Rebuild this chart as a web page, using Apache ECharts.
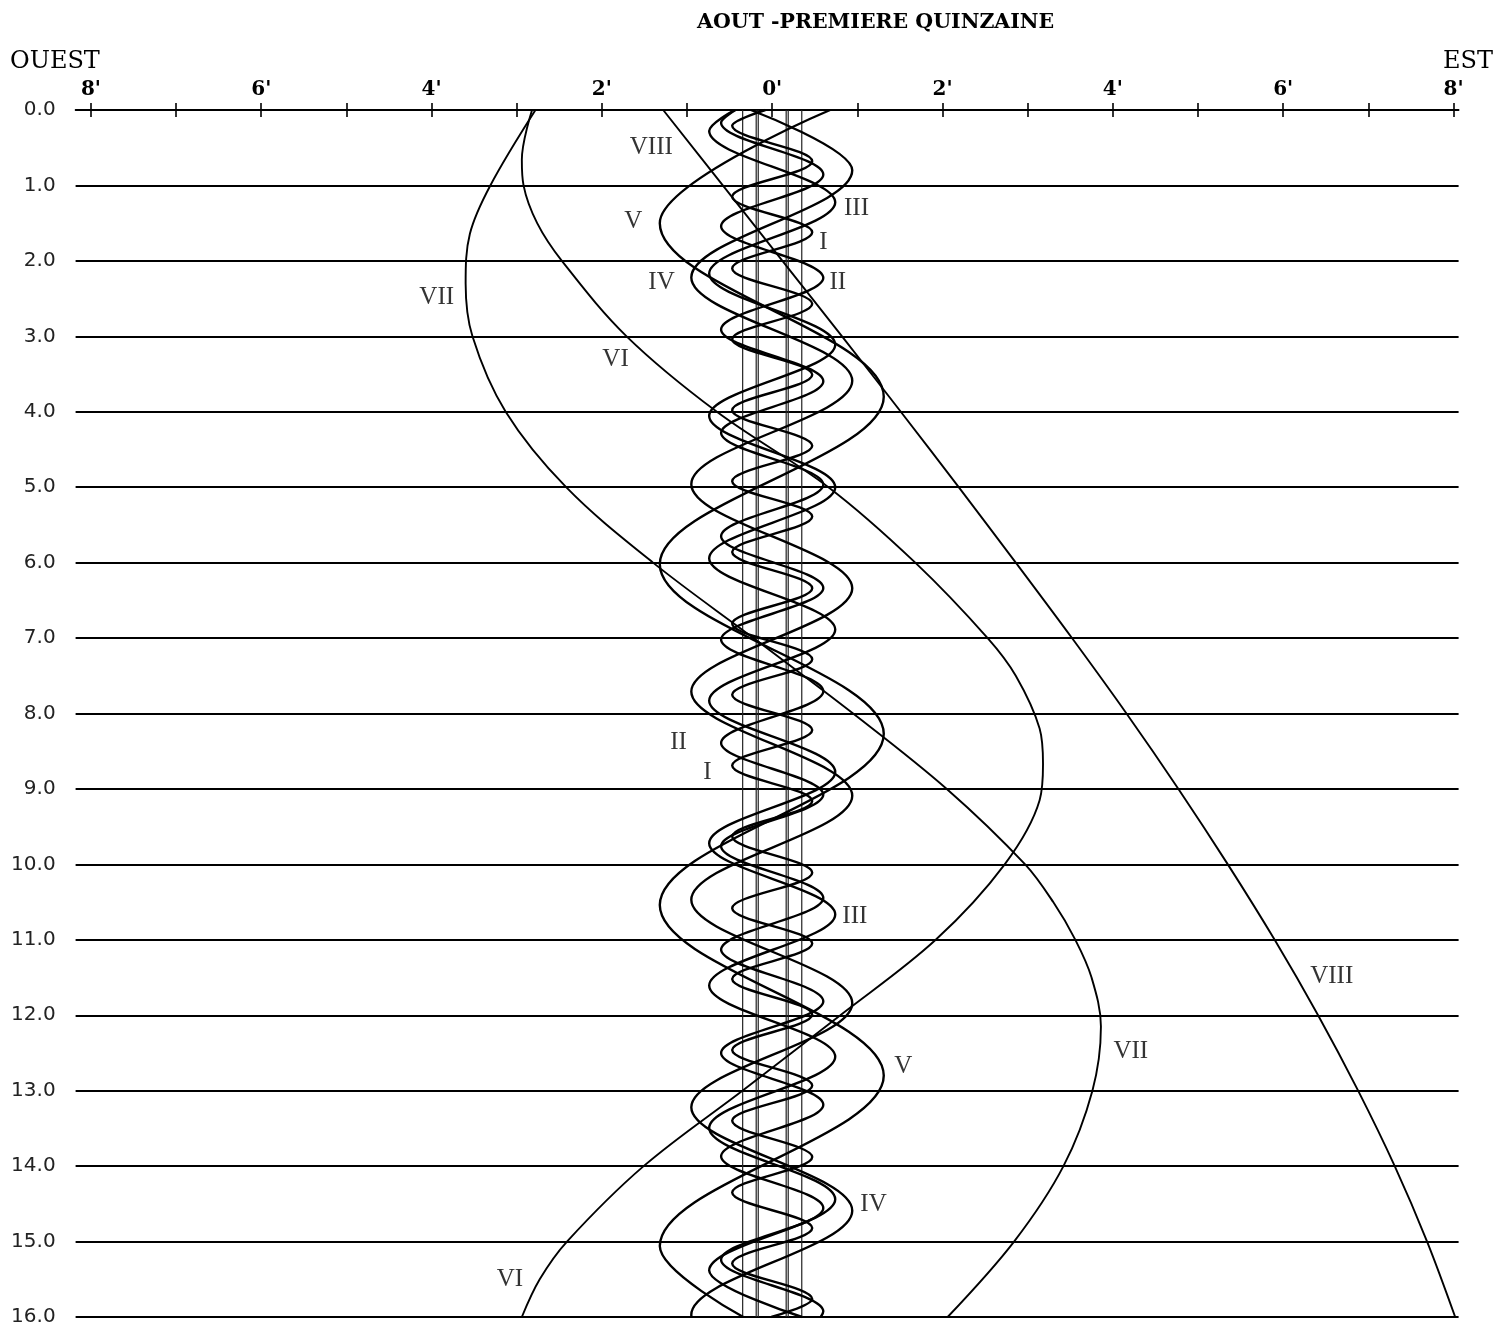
<!DOCTYPE html>
<html>
<head>
<meta charset="utf-8">
<script src="https://cdn.jsdelivr.net/npm/echarts@6/dist/echarts.min.js"></script>
<style>
html,body{margin:0;padding:0;background:#fff;}
#chart{width:1498px;height:1327px;}
</style>
</head>
<body>
<div id="chart"></div>
<script>
// ---------- texts ----------
const titleText = 'AOUT -PREMIERE QUINZAINE';
const westText = 'OUEST';
const eastText = 'EST';

// ---------- axes ----------
const arcTicks = [-8,-7,-6,-5,-4,-3,-2,-1,0,1,2,3,4,5,6,7,8];
const arcLabelValues = [-8,-6,-4,-2,0,2,4,6,8];
const dayMin = 0, dayMax = 16;

// planet / ring edges (arc minutes)
const ringLines = [-0.347, -0.188, -0.164, 0.164, 0.188, 0.347];

// ---------- satellites: [arc minutes (W<0<E), day] ----------
const satI = [[-0.08,0],[-0.47,0.21],[0.47,0.68],[-0.47,1.15],[0.47,1.62],[-0.47,2.10],[0.47,2.57],[-0.47,3.04],[0.47,3.51],[-0.47,3.98],[0.47,4.45],[-0.47,4.92],[0.47,5.39],[-0.47,5.86],[0.47,6.34],[-0.47,6.81],[0.47,7.28],[-0.47,7.75],[0.47,8.22],[-0.47,8.69],[0.47,9.16],[-0.47,9.63],[0.47,10.11],[-0.47,10.58],[0.47,11.05],[-0.47,11.52],[0.47,11.99],[-0.47,12.46],[0.47,12.93],[-0.47,13.40],[0.47,13.88],[-0.47,14.35],[0.47,14.82],[-0.47,15.29],[0.47,15.76],[-0.01,16]];
const satII = [[-0.43,0],[-0.60,0.17],[0.60,0.855],[-0.60,1.54],[0.60,2.225],[-0.60,2.91],[0.60,3.595],[-0.60,4.28],[0.60,4.965],[-0.60,5.65],[0.60,6.335],[-0.60,7.02],[0.60,7.705],[-0.60,8.39],[0.60,9.075],[-0.60,9.76],[0.60,10.445],[-0.60,11.13],[0.60,11.815],[-0.60,12.50],[0.60,13.185],[-0.60,13.87],[0.60,14.555],[-0.60,15.24],[0.60,15.925],[0.57,16]];
const satIII = [[-0.44,0],[-0.74,0.28],[0.74,1.224],[-0.74,2.168],[0.74,3.112],[-0.74,4.056],[0.74,5.0],[-0.74,5.943],[0.74,6.887],[-0.74,7.831],[0.74,8.775],[-0.74,9.719],[0.74,10.663],[-0.74,11.607],[0.74,12.551],[-0.74,13.495],[0.74,14.439],[-0.74,15.382],[0.35,16]];
const satIV = [[-0.25,0],[0.94,0.80],[-0.95,2.22],[0.94,3.59],[-0.95,4.96],[0.94,6.34],[-0.95,7.71],[0.94,9.09],[-0.95,10.47],[0.94,11.84],[-0.95,13.22],[0.94,14.59],[-0.95,15.97],[-0.948,16]];
const satV = [[0.68,0],[-1.32,1.50],[1.31,3.80],[-1.32,6.02],[1.31,8.27],[-1.32,10.54],[1.31,12.80],[-1.32,15.06],[-0.34,16]];
const satVI = [[-2.82,0],[-2.94,0.66],[-2.92,1],[-2.76,1.5],[-2.47,2],[-1.71,3],[-0.65,4],[0.66,5],[1.68,6],[2.53,7],[2.86,7.5],[3.14,8.2],[3.18,8.67],[3.14,9.15],[2.73,10],[1.92,11],[0.80,12],[-0.35,13],[-1.51,14],[-2.41,15],[-2.73,15.5],[-2.94,16]];
const satVII = [[-2.78,0],[-3.31,1],[-3.55,1.64],[-3.60,2.3],[-3.52,3],[-3.13,4],[-2.42,5],[-1.40,6],[-0.22,7],[0.95,8],[2.05,9],[2.97,10],[3.30,10.5],[3.56,11],[3.75,11.5],[3.86,12.15],[3.76,13],[3.42,14],[2.84,15],[2.06,16]];
const satVIII = [[-1.28,0],[-0.58,1],[0.12,2],[0.82,3],[1.51,4],[2.19,5],[2.86,6],[3.52,7],[4.16,8],[4.77,9],[5.35,10],[5.90,11],[6.41,12],[6.88,13],[7.31,14],[7.69,15],[8.02,16]];

// satellite name labels: [text, arc minutes, day]
const satelliteLabels = [
  ['VIII',-1.42,0.50],['V',-1.63,1.48],['III',0.99,1.31],['I',0.60,1.75],
  ['II',0.77,2.29],['IV',-1.30,2.29],['VII',-3.94,2.49],['VI',-1.84,3.30],
  ['II',-1.10,8.39],['I',-0.76,8.78],['III',0.97,10.69],['VIII',6.57,11.49],
  ['VII',4.21,12.48],['V',1.54,12.68],['IV',1.19,14.51],['VI',-3.08,15.50]
];

// ---------- chart ----------
const ink = '#000';
const chart = echarts.init(document.getElementById('chart'), null, {renderer:'canvas'});

function curve(name, data, width, opts) {
  return Object.assign({
    name: name, type: 'line', data: data, symbol: 'none', silent: true,
    lineStyle: {color: ink, width: width}, z: 3
  }, opts || {});
}

const series = [];
ringLines.forEach((x, i) => {
  series.push(curve('ring' + i, [[x, dayMin], [x, dayMax]], 1.2, {z: 2, lineStyle: {color: '#222', width: 1.2}}));
});
const smallOpts = {smooth: 0.36, smoothMonotone: 'y'};
series.push(curve('I', satI, 2.4, smallOpts));
series.push(curve('II', satII, 2.4, smallOpts));
series.push(curve('III', satIII, 2.4, smallOpts));
series.push(curve('IV', satIV, 2.4, smallOpts));
series.push(curve('V', satV, 2.4, smallOpts));
series.push(curve('VI', satVI, 1.9, {smooth: 0.35}));
series.push(curve('VII', satVII, 1.9, {smooth: 0.35}));
series.push(curve('VIII', satVIII, 1.9, {smooth: 0.35}));
series.push({
  name: 'labels', type: 'scatter', silent: true, symbolSize: 0, z: 5,
  data: satelliteLabels.map(l => ({name: l[0], value: [l[1], l[2]]})),
  label: {show: true, position: 'inside', formatter: '{b}', color: '#000',
          fontFamily: '"Liberation Serif", serif', fontSize: 25}
});

const xMin = -8.18, xMax = 8.06;

chart.setOption({
  animation: false,
  backgroundColor: '#fff',
  title: {
    text: titleText, left: 697, top: 12, padding: 0,
    textStyle: {fontFamily: '"DejaVu Serif", serif', fontWeight: 'bold', fontSize: 20.5, color: '#000'}
  },
  graphic: [
    {type: 'text', left: 10, top: 50, style: {text: westText, font: '24px "DejaVu Serif", serif', fill: '#000'}},
    {type: 'text', right: 5, top: 50, style: {text: eastText, font: '24px "DejaVu Serif", serif', fill: '#000'}}
  ],
  grid: {left: 75.6, top: 110, width: 1383, height: 1207.5, containLabel: false},
  xAxis: [
    {
      type: 'value', position: 'top', min: xMin, max: xMax,
      axisLine: {show: true, lineStyle: {color: '#000', width: 1.8}},
      axisTick: {show: true, customValues: arcTicks, length: 7, lineStyle: {color: '#000', width: 1.6}},
      axisLabel: {show: true, customValues: arcLabelValues, margin: 10,
        formatter: v => Math.abs(v) + "'",
        fontFamily: '"DejaVu Serif", serif', fontWeight: 'bold', fontSize: 20, color: '#000'},
      splitLine: {show: false}
    },
    {
      type: 'value', position: 'top', min: xMin, max: xMax,
      axisLine: {show: false},
      axisTick: {show: true, inside: true, customValues: arcTicks, length: 7, lineStyle: {color: '#000', width: 1.6}},
      axisLabel: {show: false},
      splitLine: {show: false}
    }
  ],
  yAxis: {
    type: 'value', inverse: true, min: dayMin, max: dayMax, interval: 1,
    axisLine: {show: false}, axisTick: {show: false},
    axisLabel: {formatter: v => v.toFixed(1), margin: 20,
      fontFamily: '"DejaVu Sans", sans-serif', fontSize: 20, color: '#222'},
    splitLine: {show: true, lineStyle: {color: '#000', width: 1.8}}
  },
  series: series
});
</script>
</body>
</html>
